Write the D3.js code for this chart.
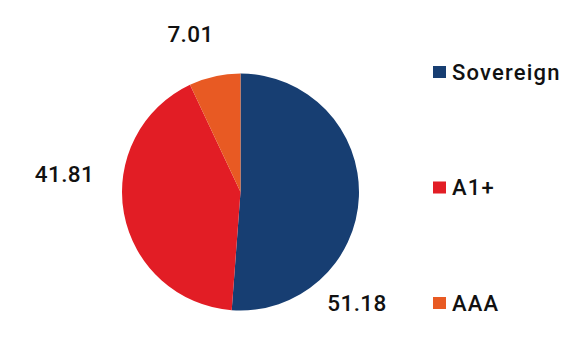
<!DOCTYPE html>
<html><head><meta charset="utf-8">
<script src="https://cdn.jsdelivr.net/npm/d3@7"></script>
<style>body{margin:0;background:#fff}text{font-family:Roboto,"Noto Sans",sans-serif;font-weight:500}</style>
</head><body>
<svg id="c" width="586" height="355"></svg>
<script>
const categories = ["Sovereign", "A1+", "AAA"];
const values = [51.18, 41.81, 7.01];
const colors = ["#173e72", "#e21d25", "#e85a23"];

const svg = d3.select("#c");
const cx = 240.5, cy = 192, r = 118.5;
const pie = d3.pie().sort(null).value(d => d)(values);
const arc = d3.arc().innerRadius(0).outerRadius(r);
const g = svg.append("g").attr("transform", `translate(${cx},${cy})`);
g.selectAll("path").data(pie).join("path")
  .attr("d", arc).attr("fill", (d, i) => colors[i]);

// data label offsets relative to pie center
const labelPos = [[116.5, 119], [-176, -10], [-50, -150]];
g.selectAll("text.lbl").data(pie).join("text").attr("class", "lbl")
  .attr("x", (d, i) => labelPos[i][0]).attr("y", (d, i) => labelPos[i][1])
  .attr("text-anchor", "middle").attr("font-size", 22.5).attr("fill", "#111")
  .attr("letter-spacing", 0.4)
  .text(d => d.data.toFixed(2));

const lg = svg.append("g");
const ly = d3.scalePoint().domain(categories).range([72, 303]);
const items = lg.selectAll("g").data(categories).join("g")
  .attr("transform", d => `translate(433,${ly(d)})`);
items.append("rect").attr("x", 0).attr("y", -6).attr("width", 13).attr("height", 12)
  .attr("fill", (d, i) => colors[i]);
items.append("text").attr("x", 19).attr("y", 7.5).attr("font-size", 22).attr("fill", "#111")
  .attr("letter-spacing", 1.2)
  .text(d => d);
</script>
</body></html>
